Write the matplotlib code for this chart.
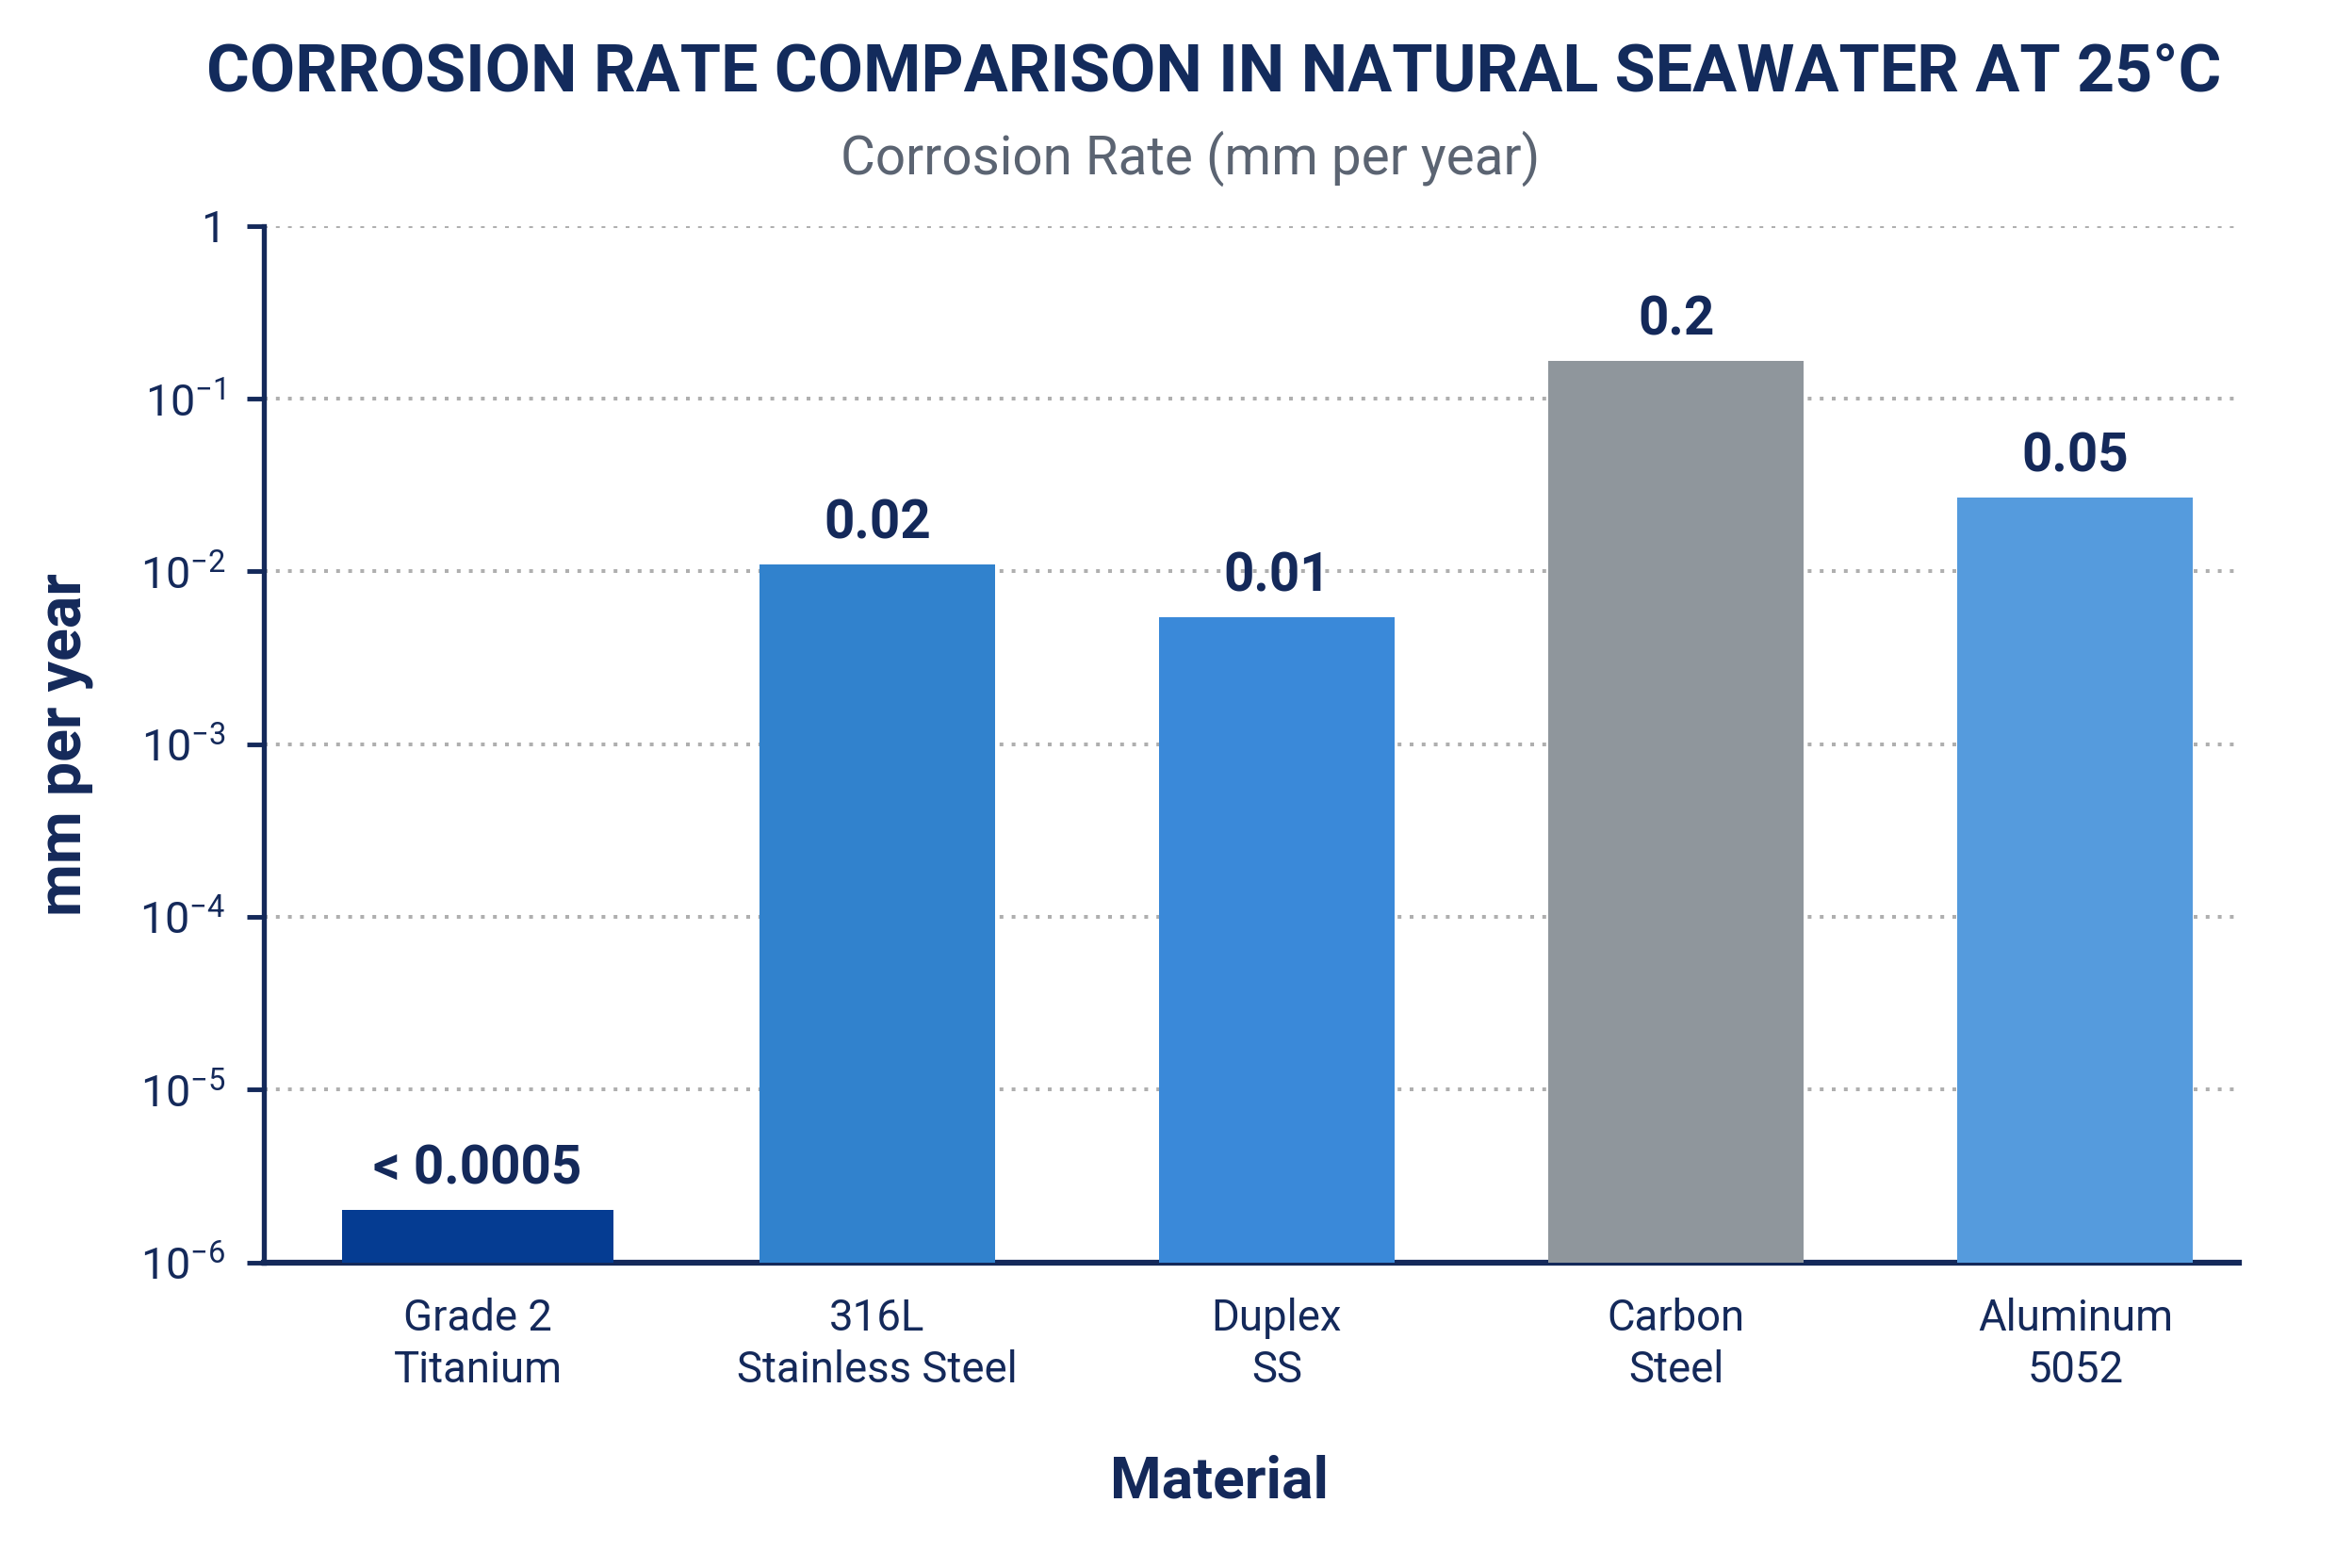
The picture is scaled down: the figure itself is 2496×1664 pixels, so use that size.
import numpy as np
import matplotlib
matplotlib.use("Agg")
import matplotlib.pyplot as plt

# data (bar heights as drawn, labels as printed)
materials = ["Grade 2\nTitanium", "316L\nStainless Steel", "Duplex\nSS", "Carbon\nSteel", "Aluminum\n5052"]
rates = [2.0e-6, 0.0109, 0.0054, 0.165, 0.0267]
rate_labels = ["< 0.0005", "0.02", "0.01", "0.2", "0.05"]
ytick_values = [1e-6, 1e-5, 1e-4, 1e-3, 1e-2, 1e-1, 1]
ytick_labels = [r"$\mathdefault{10^{-6}}$", r"$\mathdefault{10^{-5}}$", r"$\mathdefault{10^{-4}}$",
                r"$\mathdefault{10^{-3}}$", r"$\mathdefault{10^{-2}}$", r"$\mathdefault{10^{-1}}$", "1"]

bar_colors = ["#053C92", "#3182CD", "#3A89D9", "#8F969C", "#559BDD"]
bar_widths = [0.68, 0.59, 0.59, 0.64, 0.59]
navy = "#14295A"

plt.rcParams["font.family"] = ["Roboto", "DejaVu Sans"]
plt.rcParams["mathtext.default"] = "regular"

fig = plt.figure(figsize=(15.6, 10.4), dpi=160)
ax = fig.add_axes([0.112, 0.195, 0.840, 0.661])

x = np.arange(len(materials))
ax.bar(x, rates, width=bar_widths, color=bar_colors, zorder=3)

ax.set_yscale("log")
ax.set_ylim(1e-6, 1)
ax.set_xlim(-0.537, 4.41)
ax.set_yticks(ytick_values)
ax.set_yticklabels(ytick_labels)
ax.yaxis.set_minor_locator(matplotlib.ticker.NullLocator())

ax.set_xticks(x)
ax.set_xticklabels(materials, fontsize=20.5, color=navy, linespacing=1.3)
ax.tick_params(axis="x", length=0, pad=17)
ax.tick_params(axis="y", length=8, width=2.2, color=navy, labelsize=21, labelcolor=navy, pad=10)

# dotted horizontal grid
ax.grid(axis="y", color="#AFAFAF", linewidth=1.8, linestyle=(0, (1, 2.2)), zorder=0)
ax.grid(axis="x", visible=False)

for side in ["top", "right"]:
    ax.spines[side].set_visible(False)
ax.spines["left"].set_color(navy)
ax.spines["left"].set_linewidth(2.4)
ax.spines["bottom"].set_color(navy)
ax.spines["bottom"].set_linewidth(2.8)

for xi, r, lab in zip(x, rates, rate_labels):
    ax.annotate(lab, (xi, r), xytext=(0, 7), textcoords="offset points",
                ha="center", va="bottom", fontsize=25.5, fontweight="bold", color=navy)

ax.set_ylabel("mm per year", fontsize=29, fontweight="bold", color=navy, labelpad=22)
ax.set_xlabel("Material", fontsize=28, fontweight="bold", color=navy)
ax.xaxis.set_label_coords(0.484, -0.185)

fig.text(0.516, 0.954, "CORROSION RATE COMPARISON IN NATURAL SEAWATER AT 25°C",
         ha="center", va="center", fontsize=31.5, fontweight="bold", color="#132B5C")
fig.text(0.506, 0.899, "Corrosion Rate (mm per year)", ha="center", va="center",
         fontsize=25.5, color="#5B6472")

fig.savefig("out.png", dpi=160, facecolor="white")
